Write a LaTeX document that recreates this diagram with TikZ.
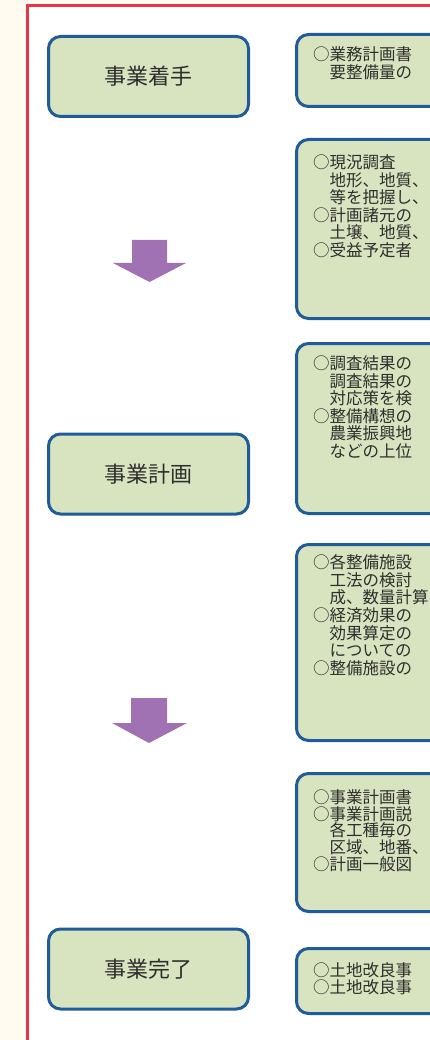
\documentclass[tikz,border=0pt]{standalone}
\usepackage{fontspec}
\newfontfamily\jp{Noto Sans CJK JP}
\definecolor{cream}{HTML}{FFFBF0}
\definecolor{framered}{HTML}{E23848}
\definecolor{boxblue}{HTML}{1F5C99}
\definecolor{boxfill}{HTML}{D8E4BF}
\definecolor{arrowpurple}{HTML}{A072B3}
\definecolor{txt}{HTML}{2E2E2E}
\begin{document}
\begin{tikzpicture}[x=1pt,y=-1pt,
  stage/.style={draw=boxblue, line width=3pt, fill=boxfill, rounded corners=12pt,
    minimum width=200pt, minimum height=80pt, inner sep=0pt,
    font=\jp\fontsize{22}{24}\selectfont, text=txt},
  detail/.style={draw=boxblue, line width=3pt, fill=boxfill, rounded corners=12pt,
    anchor=north west, minimum width=200pt, inner sep=0pt},
  desc/.style={anchor=north west, inner sep=0pt, align=left,
    font=\jp\fontsize{16.5}{17.6}\selectfont, text=txt},
  bigarrow/.style={fill=arrowpurple, draw=none}]
\useasboundingbox (0,0) rectangle (430,1040);
\clip (0,0) rectangle (430,1040);
\fill[cream] (0,0) rectangle (430,1040);
\fill[white] (27.5,5.5) rectangle (440,1050);
\draw[framered, line width=3pt] (27.5,1050) -- (27.5,5.5) -- (440,5.5);

% stage boxes
\node[stage] (s1) at (148.5,76.5) {事業着手};
\node[stage] (s2) at (148.5,474) {事業計画};
\node[stage] (s3) at (148.5,969) {事業完了};

% detail boxes
\node[detail, minimum height=72pt]  (d1) at (295,33)  {};
\node[detail, minimum height=179pt] (d2) at (295,138) {};
\node[detail, minimum height=170pt] (d3) at (295,342) {};
\node[detail, minimum height=196pt] (d4) at (295,543) {};
\node[detail, minimum height=138pt] (d5) at (295,772) {};
\node[detail, minimum height=65pt]  (d6) at (295,947) {};

\node[desc] (t1) at (313,46.5) {○業務計画書\\　要整備量の};
\node[desc] (t2) at (313,154.5) {○現況調査\\　地形、地質、\\　等を把握し、\\○計画諸元の\\　土壌、地質、\\○受益予定者};
\node[desc] (t3) at (313,355.5) {○調査結果の\\　調査結果の\\　対応策を検\\○整備構想の\\　農業振興地\\　などの上位};
\node[desc] (t4) at (313,554.5) {○各整備施設\\　工法の検討\\　成、数量計算\\○経済効果の\\　効果算定の\\　についての\\○整備施設の};
\node[desc, font=\jp\fontsize{16.5}{16.6}\selectfont] (t5) at (313,789.5) {○事業計画書\\○事業計画説\\　各工種毎の\\　区域、地番、\\○計画一般図};
\node[desc, font=\jp\fontsize{16.5}{17}\selectfont] (t6) at (313,962.5) {○土地改良事\\○土地改良事};

% block arrows
\fill[bigarrow] (132,240) -- (167,240) -- (167,263) -- (186,263) -- (149.5,282)
  -- (113,263) -- (132,263) -- cycle;
\fill[bigarrow] (131,698) -- (167,698) -- (167,723) -- (187,723) -- (149,743)
  -- (112,723) -- (131,723) -- cycle;
\end{tikzpicture}
\end{document}
